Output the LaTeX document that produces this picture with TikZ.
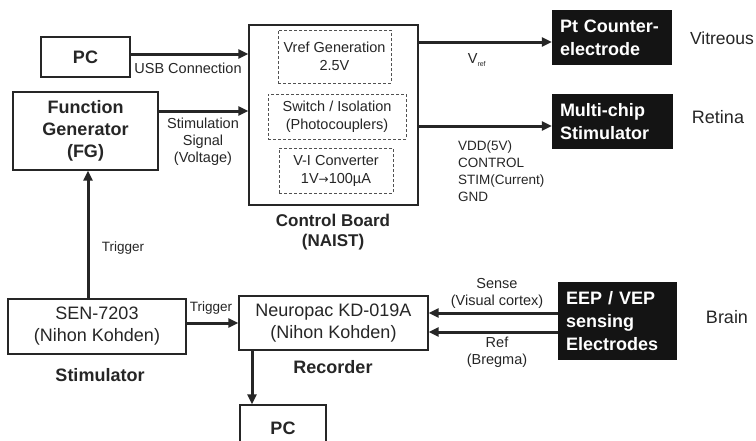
\documentclass[tikz,border=0pt]{standalone}
\usepackage{fontspec}
\setmainfont{Liberation Sans}
\usetikzlibrary{arrows.meta}
\definecolor{ink}{HTML}{262626}
\tikzset{
  box/.style={draw=ink, line width=1.4pt, fill=white, text=ink, inner sep=0pt, align=center},
  dbox/.style={draw=ink!80, line width=1pt, dash pattern=on 3pt off 2pt, inner sep=0pt, align=center, text=ink, font=\fontsize{14.5}{18}\selectfont},
  blk/.style={fill=black!92, draw=none, text=white, inner sep=0pt, align=left, font=\fontsize{18}{23}\selectfont\bfseries},
  big/.style={font=\fontsize{18}{22}\selectfont},
  bigb/.style={font=\fontsize{18}{22}\selectfont\bfseries},
  lbl/.style={text=ink, inner sep=0pt, align=center, font=\fontsize{14.5}{17}\selectfont},
  slbl/.style={text=ink, inner sep=0pt, align=center, font=\fontsize{13.5}{17}\selectfont},
  arr/.style={draw=ink, line width=3pt, -{Triangle[length=10pt,width=9pt]}},
}
\begin{document}
\begin{tikzpicture}[x=1pt,y=-1pt]
\useasboundingbox[fill=white] (0,0) rectangle (756,440);

% boxes
\node[box, bigb, minimum width=89pt, minimum height=40pt] (pc1) at (85.5,57) {PC};
\node[box, bigb, minimum width=145pt, minimum height=78pt] (fg) at (85.5,131) {Function\\Generator\\(FG)};
\node[box, minimum width=169pt, minimum height=180pt] (cb) at (333.5,115) {};
\node[dbox, minimum width=113pt, minimum height=53pt] (vref) at (334.5,56.5) {Vref Generation\\2.5V};
\node[dbox, minimum width=138pt, minimum height=45pt] (sw) at (337,116.5) {Switch / Isolation\\(Photocouplers)};
\node[dbox, minimum width=114pt, minimum height=45pt] (vi) at (336,170.5) {V-I Converter\\1V{\fontspec{DejaVu Sans}\fontsize{12}{12}\selectfont →}100\textmu A};
\node[blk, minimum width=120pt, minimum height=55pt, text width=104pt] (pt) at (612,37.5) {Pt Counter-\\electrode};
\node[blk, minimum width=121pt, minimum height=55pt, text width=105pt] (mc) at (612.5,121.5) {Multi-chip\\Stimulator};
\node[box, big, minimum width=178pt, minimum height=55pt] (sen) at (97,326.5) {SEN-7203\\(Nihon Kohden)};
\node[box, big, minimum width=189pt, minimum height=54pt] (np) at (333.5,323) {Neuropac KD-019A\\(Nihon Kohden)};
\node[box, bigb, minimum width=86pt, minimum height=46pt] (pc2) at (283,428) {PC};
\node[blk, minimum width=119pt, minimum height=78pt, text width=103pt] (eep) at (617.5,321) {EEP / VEP\\sensing\\Electrodes};

% labels
\node[lbl] (lusb) at (188,68) {USB Connection};
\node[lbl] (lstim) at (203,142) {Stimulation\\Signal\\(Voltage)};
\node[lbl] (lvref) at (477,60) {V\textsubscript{\fontsize{7}{7}\selectfont ref}};
\node[slbl, align=left, anchor=west] (lvdd) at (458,171.5) {VDD(5V)\\CONTROL\\STIM(Current)\\GND};
\node[text=ink, font=\fontsize{17.5}{21}\selectfont, inner sep=0pt] (lvit) at (722,38) {Vitreous};
\node[text=ink, big, inner sep=0pt] (lret) at (718,117) {Retina};
\node[text=ink, font=\fontsize{17}{20}\selectfont\bfseries, align=center, inner sep=0pt] (lcb) at (333,232) {Control Board\\(NAIST)};
\node[slbl] (ltrig1) at (123,248) {Trigger};
\node[text=ink, bigb, inner sep=0pt] (lstimr) at (100,375) {Stimulator};
\node[slbl] (ltrig2) at (211,308) {Trigger};
\node[text=ink, bigb, inner sep=0pt] (lrec) at (333,367) {Recorder};
\node[lbl] (lsense) at (497,293) {Sense\\(Visual cortex)};
\node[lbl] (lref) at (497,352) {Ref\\(Bregma)};
\node[text=ink, big, inner sep=0pt] (lbrain) at (727,317) {Brain};

% connectors
\coordinate (usbo) at ([yshift=3pt]pc1.east);
\draw[arr] (usbo) -- (usbo -| cb.west);
\coordinate (fgo) at ([yshift=20pt]fg.east);
\draw[arr] (fgo) -- (fgo -| cb.west);
\coordinate (pti) at ([yshift=-4.5pt]pt.west);
\draw[arr] (pti -| cb.east) -- (pti);
\coordinate (mci) at ([yshift=-4.5pt]mc.west);
\draw[arr] (mci -| cb.east) -- (mci);
\coordinate (fgi) at ([xshift=2.5pt]fg.south);
\draw[arr] (fgi |- sen.north) -- (fgi);
\draw[arr] (sen.east |- np.west) -- (np.west);
\coordinate (pci) at ([xshift=-31pt]pc2.north);
\draw[arr] (pci |- np.south) -- (pci);
\coordinate (sns) at ([yshift=8pt]eep.west);
\draw[arr] (sns) -- (sns -| np.east);
\coordinate (rfs) at ([yshift=-11pt]eep.west);
\draw[arr] (rfs) -- (rfs -| np.east);
\end{tikzpicture}
\end{document}
